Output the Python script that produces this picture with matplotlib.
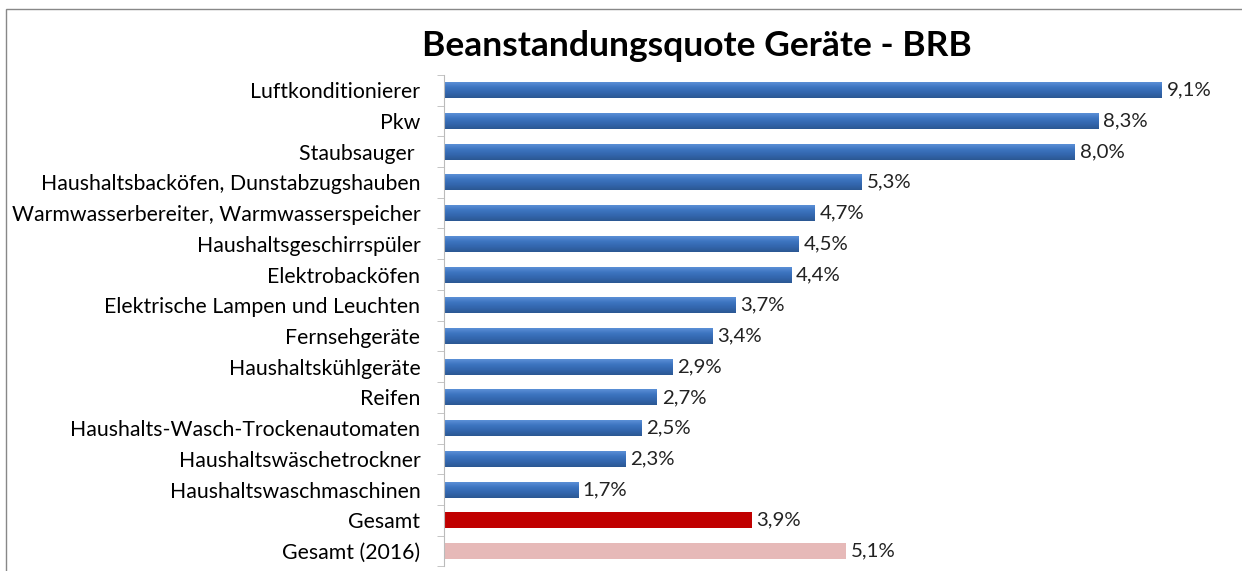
import matplotlib.pyplot as plt
import numpy as np
from matplotlib.patches import Rectangle
from matplotlib.colors import LinearSegmentedColormap

plt.rcParams['font.family'] = ['Lato', 'DejaVu Sans']

kategorien = ['Luftkonditionierer', 'Pkw', 'Staubsauger ',
              'Haushaltsbacköfen, Dunstabzugshauben',
              'Warmwasserbereiter, Warmwasserspeicher',
              'Haushaltsgeschirrspüler', 'Elektrobacköfen',
              'Elektrische Lampen und Leuchten', 'Fernsehgeräte',
              'Haushaltskühlgeräte', 'Reifen',
              'Haushalts-Wasch-Trockenautomaten', 'Haushaltswäschetrockner',
              'Haushaltswaschmaschinen', 'Gesamt', 'Gesamt (2016)']
quoten = [9.1, 8.3, 8.0, 5.3, 4.7, 4.5, 4.4, 3.7, 3.4, 2.9, 2.7, 2.5, 2.3, 1.7, 3.9, 5.1]
farben = ['#3A70B8'] * 14 + ['#C00000', '#E6B9B8']

fig = plt.figure(figsize=(12.42, 5.71), dpi=100)
ax = fig.add_axes([0.3575, 0.008, 0.635, 0.861])

y = np.arange(len(kategorien))
bars = ax.barh(y, quoten, height=0.52, color=farben)

# Farbverlauf fuer die blauen Balken (oben heller, unten dunkler)
blau = LinearSegmentedColormap.from_list('blau', ['#5B8FD6', '#3C74C0', '#3366AD', '#2B5893'])
grad = np.linspace(0, 1, 50).reshape(-1, 1)
for b, f in zip(bars, farben):
    if f == '#3A70B8':
        x0, y0, w, h = b.get_x(), b.get_y(), b.get_width(), b.get_height()
        ax.imshow(grad, cmap=blau, aspect='auto', extent=(x0, x0 + w, y0 + h, y0),
                  interpolation='bilinear', zorder=2)

for yi, v in zip(y, quoten):
    ax.text(v + 0.06, yi, f'{v:.1f}%'.replace('.', ','), va='center', ha='left',
            fontsize=14.7, color='#222222')

ax.set_xlim(0, 10)
ax.set_ylim(len(kategorien) - 0.5, -0.5)
ax.set_yticks(y)
ax.set_yticklabels(kategorien, fontsize=15.3)
ax.set_yticks(np.arange(len(kategorien) + 1) - 0.5, minor=True)
ax.tick_params(axis='y', which='major', length=0, pad=17)
ax.tick_params(axis='y', which='minor', length=5, color='#BBBBBB', direction='out')
ax.set_xticks([])
for s in ['top', 'right', 'bottom']:
    ax.spines[s].set_visible(False)
ax.spines['left'].set_color('#BBBBBB')

fig.text(0.561, 0.92, 'Beanstandungsquote Geräte - BRB', ha='center', va='center',
         fontsize=25.5, fontweight='bold')

fig.patches.append(Rectangle((6 / 1242, -0.1), 1.2, 1.1 - 9 / 571,
                             transform=fig.transFigure, fill=False,
                             edgecolor='#888888', linewidth=1))

fig.savefig('out.png', dpi=100)
